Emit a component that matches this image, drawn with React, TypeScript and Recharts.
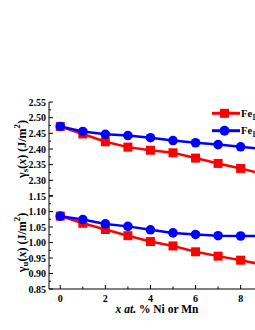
import { LineChart, Line, XAxis, YAxis, Label } from "recharts";

// x = at.% Ni or Mn
const xValues = [0, 1, 2, 3, 4, 5, 6, 7, 8, 9, 10];

// surface energy gamma_s (J/m^2)
const surfRed = [2.472, 2.448, 2.423, 2.406, 2.396, 2.388, 2.371, 2.354, 2.338, 2.32, 2.305];
const surfBlue = [2.472, 2.456, 2.447, 2.443, 2.436, 2.427, 2.42, 2.414, 2.407, 2.4, 2.395];

// unstable stacking energy gamma_u (J/m^2)
const unstRed = [1.085, 1.062, 1.042, 1.022, 1.003, 0.989, 0.97, 0.956, 0.943, 0.928, 0.915];
const unstBlue = [1.085, 1.074, 1.06, 1.052, 1.041, 1.031, 1.026, 1.022, 1.021, 1.021, 1.02];

const xTicks = [0, 1, 2, 3, 4, 5, 6, 7, 8, 9, 10];
const xLabels = [0, 2, 4, 6, 8, 10];
const topYTicks = [2.25, 2.275, 2.3, 2.325, 2.35, 2.375, 2.4, 2.425, 2.45, 2.475, 2.5, 2.525, 2.55];
const topYLabels = ["2.30", "2.35", "2.40", "2.45", "2.50", "2.55"];
const bottomYTicks = [0.85, 0.875, 0.9, 0.925, 0.95, 0.975, 1.0, 1.025, 1.05, 1.075, 1.1, 1.125, 1.15];
const bottomYLabels = ["0.85", "0.90", "0.95", "1.00", "1.05", "1.10", "1.15"];

const legendNames = [
  { base: "Fe", sub: "1-x", el: "Ni", sub2: "x" },
  { base: "Fe", sub: "1-x", el: "Mn", sub2: "x" },
];

const RED = "#ff0000";
const BLUE = "#0000ff";
const FONT = "'Liberation Serif', 'Times New Roman', serif";

const topData = xValues.map((x, i) => ({ x, red: surfRed[i], blue: surfBlue[i] }));
const bottomData = xValues.map((x, i) => ({ x, red: unstRed[i], blue: unstBlue[i] }));

const isMajorY = (v: number) => Math.abs(v * 20 - Math.round(v * 20)) < 1e-6;

function LeftTick({ x, y, payload, labels, edge }: any) {
  const v = Number(payload.value);
  const txt = v.toFixed(2);
  const major = isMajorY(v);
  return (
    <g>
      <line x1={x} x2={x + (major ? 4 : 2)} y1={y} y2={y} stroke="#000" strokeWidth={1} />
      {labels.includes(txt) && txt !== edge && (
        <text x={x - 3} y={y} dy="0.35em" textAnchor="end" fontFamily={FONT} fontWeight="bold" fontSize={10} fill="#000">
          {txt}
        </text>
      )}
    </g>
  );
}

function TopTick({ x, y, payload }: any) {
  const major = xLabels.includes(payload.value);
  return <line x1={x} x2={x} y1={y} y2={y + (major ? 4 : 2.5)} stroke="#000" strokeWidth={1} />;
}

function BottomTick({ x, y, payload }: any) {
  const v = payload.value;
  const major = xLabels.includes(v);
  return (
    <g>
      <line x1={x} x2={x} y1={y} y2={y - (major ? 4 : 2.5)} stroke="#000" strokeWidth={1} />
      {major && (
        <text x={x} y={y + 13} textAnchor="middle" fontFamily={FONT} fontWeight="bold" fontSize={10} fill="#000">
          {v}
        </text>
      )}
    </g>
  );
}

// axis title, plus the top-most tick label of the lower panel (on the shared border)
function YTitle({ viewBox, sub, edge }: any) {
  const cy = viewBox.y + viewBox.height / 2;
  const ax = Number.isFinite(viewBox.x + viewBox.width) ? viewBox.x + viewBox.width : 49;
  return (
    <g>
      <text
        x={22}
        y={cy}
        transform={`rotate(-90, 22, ${cy})`}
        textAnchor="middle"
        dominantBaseline="central"
        fontFamily={FONT}
        fontWeight="bold"
        fontSize={12}
        fill="#000"
      >
        γ<tspan fontSize={9} dy={3}>{sub}</tspan>
        <tspan dy={-3}>(</tspan>
        <tspan fontStyle="italic">x</tspan>) (J/m<tspan fontSize={9} dy={-5}>2</tspan>
        <tspan dy={5}>)</tspan>
      </text>
      {edge && (
        <g>
          <line x1={ax} x2={ax + 4} y1={viewBox.y} y2={viewBox.y} stroke="#000" strokeWidth={1} />
          <text x={ax - 3} y={viewBox.y} dy="0.35em" textAnchor="end" fontFamily={FONT} fontWeight="bold" fontSize={10} fill="#000">
            {edge}
          </text>
        </g>
      )}
    </g>
  );
}

function XTitle() {
  return (
    <text x={157} y={137} textAnchor="middle" fontFamily={FONT} fontWeight="bold" fontSize={11.5} fill="#000">
      <tspan fontStyle="italic">x at.</tspan> % Ni or Mn
    </text>
  );
}

const square = (props: any) => {
  const { cx, cy, index } = props;
  return <rect key={`sq-${index}`} x={cx - 4.5} y={cy - 4.5} width={9} height={9} fill={RED} />;
};

function Panel({ data, ticks, labels, edge, domain, sub, top, height, marginTop, bottom, z }: any) {
  return (
    <div style={{ position: "absolute", left: 0, top, zIndex: z }}>
      <LineChart width={300} height={height} data={data} margin={{ top: marginTop, right: 3, left: 0, bottom: 0 }}>
        <XAxis
          dataKey="x"
          type="number"
          domain={[-0.5, 10.5]}
          ticks={xTicks}
          interval={0}
          height={bottom ? 41 : 0}
          tickSize={0}
          tickMargin={0}
          stroke="#000"
          tick={bottom ? <BottomTick /> : false}
          tickLine={false}
        >
          {bottom && <Label content={<XTitle />} />}
        </XAxis>
        <XAxis
          xAxisId="top"
          orientation="top"
          dataKey="x"
          type="number"
          domain={[-0.5, 10.5]}
          ticks={xTicks}
          interval={0}
          height={0}
          tickSize={0}
          tickMargin={0}
          stroke="#000"
          tick={<TopTick />}
          tickLine={false}
        />
        <YAxis
          type="number"
          domain={domain}
          ticks={ticks}
          interval={0}
          width={49}
          tickSize={0}
          tickMargin={0}
          stroke="#000"
          tick={<LeftTick labels={labels} edge={edge} />}
          tickLine={false}
          allowDataOverflow
        >
          <Label content={<YTitle sub={sub} edge={edge} />} />
        </YAxis>
        <Line dataKey="red" stroke={RED} strokeWidth={2.5} dot={square} isAnimationActive={false} />
        <Line
          dataKey="blue"
          stroke={BLUE}
          strokeWidth={2.5}
          dot={{ r: 4.8, fill: BLUE, stroke: BLUE, strokeWidth: 0 }}
          isAnimationActive={false}
        />
      </LineChart>
    </div>
  );
}

function LegendBox() {
  const rows = [
    { color: RED, y: 113.3, shape: "square" },
    { color: BLUE, y: 130.7, shape: "circle" },
  ];
  return (
    <svg style={{ position: "absolute", left: 200, top: 100, zIndex: 3 }} width={60} height={40} viewBox="200 100 60 40">
      {rows.map((r, i) => (
        <g key={i}>
          <line x1={212} x2={240} y1={r.y} y2={r.y} stroke={r.color} strokeWidth={3} />
          {r.shape === "square" ? (
            <rect x={220} y={r.y - 4.5} width={9} height={9} fill={r.color} />
          ) : (
            <circle cx={224.5} cy={r.y} r={5} fill={r.color} />
          )}
          <text x={241} y={r.y + 3.5} fontFamily={FONT} fontWeight="bold" fontSize={10.5} fill="#000">
            {legendNames[i].base}
            <tspan fontSize={7.5} dy={3}>{legendNames[i].sub}</tspan>
            <tspan dy={-3}>{legendNames[i].el}</tspan>
            <tspan fontSize={7.5} dy={3}>{legendNames[i].sub2}</tspan>
          </text>
        </g>
      ))}
    </svg>
  );
}

export default function App() {
  return (
    <div style={{ position: "fixed", left: 0, top: 0, width: 255, height: 330, overflow: "hidden", background: "#fff" }}>
      <Panel data={topData} ticks={topYTicks} labels={topYLabels} edge={null} domain={[2.25, 2.55]} sub="s" top={0} height={196} marginTop={102} bottom={false} z={1} />
      <Panel
        data={bottomData}
        ticks={bottomYTicks}
        labels={bottomYLabels}
        edge={bottomYLabels[bottomYLabels.length - 1]}
        domain={[0.85, 1.15]}
        sub="u"
        top={176}
        height={154}
        marginTop={20}
        bottom
        z={2}
      />
      <LegendBox />
    </div>
  );
}
